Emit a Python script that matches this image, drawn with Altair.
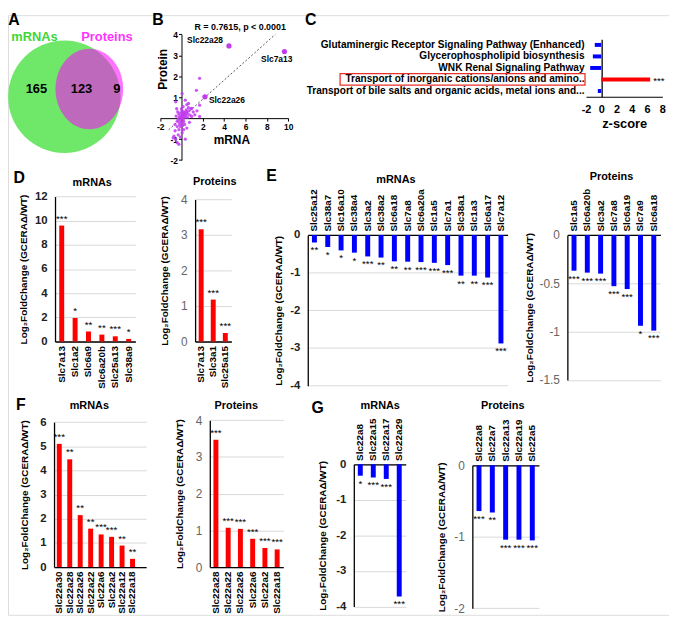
import altair as alt
import pandas as pd

# ---------------- data ----------------
venn_sets = ["mRNAs", "Proteins"]
venn_counts = ["165", "123", "9"]  # mRNA only, both, protein only

scatter_mrna = [0.0, 0.1, 0.2, 0.15, -0.1, -0.05, 0.3, 0.25, 0.1, -0.2, -0.3, 0.05, 0.4, 0.35, 0.2,
                -0.15, -0.25, 0.0, 0.5, 0.45, 0.6, 0.15, -0.35, -0.4, -0.5, 0.3, 0.1, -0.1, 0.55, 0.7,
                0.8, 0.05, 0.22, -0.05, 0.12, 0.38, -0.18, 0.65, -0.6, 0.9,
                1.7, 1.4, 0.06, 0.36, 1.7, 0.66, 0.95, -0.54, 1.25, 1.7, 0.95, 1.1, 0.5, -0.7, -0.54,
                -0.4, -0.24, 0.36, 0.06, 0.5, -0.24, -0.4, -0.6, -0.78, -0.3, 0.2, -0.1, 0.75, -0.45, 1.45]
scatter_protein = [0.0, 0.05, 0.1, -0.05, 0.1, -0.1, 0.2, 0.3, 0.25, 0.05, -0.05, 0.35, 0.15, 0.05, -0.15,
                   -0.2, 0.2, 0.45, 0.3, 0.4, 0.2, 0.55, 0.3, -0.15, 0.1, -0.3, -0.35, -0.4, 0.05, 0.35,
                   0.15, 0.15, 0.18, 0.25, -0.2, 0.28, -0.3, 0.5, -0.3, 0.45,
                   1.9, 1.33, 1.17, 0.86, 0.62, 0.7, 0.47, 0.78, 0.16, 0.08, 0.08, 0.3, 0.65, -0.86, -1.0,
                   -1.17, -1.25, -1.0, -0.7, -0.47, -0.55, -0.4, -0.6, -0.94, -0.8, -0.55, -0.9, -0.2, 0.45, 0.35]
named_genes = ["Slc22a28", "Slc7a13", "Slc22a26"]
named_mrna = [4.45, 9.65, 2.2]
named_protein = [3.45, 3.18, 1.02]
fit_mrna = [-1.2, 8.8]
fit_protein = [-0.55, 4.0]
stat_text = "R = 0.7615, p < 0.0001"

c_pathways = ["Glutaminergic Receptor Signaling Pathway (Enhanced)",
              "Glycerophospholipid biosynthesis",
              "WNK Renal Signaling Pathway",
              "Transport of inorganic cations/anions and amino..",
              "Transport of bile salts and organic acids, metal ions and..."]
c_zscore = [-0.85, -1.1, -1.45, 6.4, -0.45]
c_sig = ["", "", "", "***", ""]

d_mrna_genes = ["Slc7a13", "Slc1a2", "Slc6a9", "Slc6a20b", "Slc25a13", "Slc38a9"]
d_mrna_lfc = [9.6, 1.95, 0.83, 0.57, 0.43, 0.21]
d_mrna_sig = ["***", "*", "**", "**", "***", "*"]
d_prot_genes = ["Slc7a13", "Slc3a1", "Slc25a15"]
d_prot_lfc = [3.16, 1.18, 0.24]
d_prot_sig = ["***", "***", "***"]

e_mrna_genes = ["Slc25a12", "Slc38a7", "Slc16a10", "Slc38a4", "Slc3a2", "Slc38a2", "Slc6a18", "Slc7a8",
                "Slc6a20a", "Slc1a5", "Slc7a1", "Slc38a1", "Slc1a3", "Slc6a17", "Slc7a12"]
e_mrna_lfc = [-0.2, -0.32, -0.41, -0.47, -0.57, -0.6, -0.7, -0.71, -0.72, -0.74, -0.8, -1.08, -1.08, -1.13, -2.88]
e_mrna_sig = ["**", "*", "*", "*", "***", "**", "**", "**", "***", "***", "***", "**", "**", "***", "***"]
e_prot_genes = ["Slc1a5", "Slc6a20b", "Slc3a2", "Slc7a8", "Slc6a19", "Slc7a9", "Slc6a18"]
e_prot_lfc = [-0.37, -0.39, -0.4, -0.53, -0.56, -0.94, -0.99]
e_prot_sig = ["***", "***", "***", "***", "***", "*", "***"]

f_mrna_genes = ["Slc22a30", "Slc22a28", "Slc22a26", "Slc22a22", "Slc22a6", "Slc22a2", "Slc22a12", "Slc22a18"]
f_mrna_lfc = [5.1, 4.46, 2.15, 1.59, 1.35, 1.25, 0.89, 0.34]
f_mrna_sig = ["***", "**", "**", "**", "***", "***", "**", "**"]
f_prot_genes = ["Slc22a28", "Slc22a22", "Slc22a26", "Slc22a6", "Slc22a2", "Slc22a18"]
f_prot_lfc = [3.47, 1.07, 1.04, 0.77, 0.52, 0.48]
f_prot_sig = ["***", "***", "***", "***", "***", "***"]

g_mrna_genes = ["Slc22a8", "Slc22a15", "Slc22a17", "Slc22a29"]
g_mrna_lfc = [-0.32, -0.37, -0.41, -3.72]
g_mrna_sig = ["*", "***", "***", "***"]
g_prot_genes = ["Slc22a8", "Slc22a7", "Slc22a13", "Slc22a19", "Slc22a5"]
g_prot_lfc = [-0.64, -0.66, -1.04, -1.04, -1.05]
g_prot_sig = ["***", "**", "***", "***", "***"]

# ---------------- layout helpers ----------------
FONT = "Liberation Sans"
W, H = 668, 606
YTITLE = "Log₂FoldChange (GCERAΔ/WT)"


def px(x):
    return round((x - 2) * 0.99, 2)


def py(y):
    return round((y - 3) * 0.97, 2)


def vtext(txt, x, y, size, color="black", weight="bold", align="center"):
    return alt.Chart(pd.DataFrame({"t": [txt]})).mark_text(
        font=FONT, fontSize=size, fontWeight=weight, color=color, align=align, baseline="middle"
    ).encode(x=alt.value(px(x)), y=alt.value(py(y)), text="t:N")


layers = []

# ---------------- A: Venn ----------------
vx = alt.X("cx:Q", scale=alt.Scale(domain=[0, 120], range=[px(0), px(120)], nice=False, zero=False), axis=None)
vy = alt.Y("cy:Q", scale=alt.Scale(domain=[0, 150], range=[py(0), py(150)], nice=False, zero=False), axis=None)
green = alt.Chart(pd.DataFrame({"set": [venn_sets[0]], "cx": [59.5], "cy": [88]})).mark_point(
    shape="circle", filled=True, size=12900, color="#6fe86a", opacity=1, strokeWidth=0
).encode(x=vx, y=vy)
ellipse = "M 0.84 0 A 0.84 1 0 1 1 -0.84 0 A 0.84 1 0 1 1 0.84 0 Z"
magenta = alt.Chart(pd.DataFrame({"set": [venn_sets[1]], "cx": [85], "cy": [80]})).mark_point(
    shape=ellipse, filled=True, size=6626, color="#ff00ff", opacity=0.55, strokeWidth=0
).encode(x=vx, y=vy)
counts = alt.Chart(pd.DataFrame({"n": venn_counts, "cx": [31, 77, 113], "cy": [80, 80, 80]})).mark_text(
    font=FONT, fontSize=13, fontWeight="bold", color="black"
).encode(x=vx, y=vy, text="n:N")
set_lab1 = alt.Chart(pd.DataFrame({"s": [venn_sets[0]], "cx": [29], "cy": [26]})).mark_text(
    font=FONT, fontSize=13, fontWeight="bold", color="#3fd63a").encode(x=vx, y=vy, text="s:N")
set_lab2 = alt.Chart(pd.DataFrame({"s": [venn_sets[1]], "cx": [103], "cy": [26]})).mark_text(
    font=FONT, fontSize=13, fontWeight="bold", color="#ff33ff").encode(x=vx, y=vy, text="s:N")
layers.append(alt.layer(green, magenta, counts, set_lab1, set_lab2))

# ---------------- B: scatter ----------------
BX0, BY0 = px(179.1), py(110.3)
bx = alt.X("m:Q", title="mRNA",
           scale=alt.Scale(domain=[-2, 10], range=[px(157.3), px(288)], nice=False, zero=False),
           axis=alt.Axis(orient="bottom", offset=BY0 - H, values=[-2, 0, 2, 4, 6, 8, 10],
                         labelExpr="datum.value == 0 ? '' : '' + datum.value",
                         tickSize=3, tickColor="black", domainColor="black", domainWidth=1,
                         labelFontSize=8.5, labelFontWeight="bold", labelColor="black", labelPadding=1,
                         labelFlush=False, labelOverlap=False, grid=False,
                         titleFontSize=12, titleFontWeight="bold", titleColor="black",
                         titleX=px(230), titleY=py(133) - BY0, titleBaseline="middle"))
by = alt.Y("p:Q", title="Protein",
           scale=alt.Scale(domain=[-2, 4], range=[py(154), py(23)], nice=False, zero=False),
           axis=alt.Axis(orient="left", offset=-BX0, values=[-2, -1, 0, 1, 2, 3, 4],
                         labelExpr="datum.value == 0 ? '' : '' + datum.value",
                         tickSize=3, tickColor="black", domainColor="black", domainWidth=1,
                         labelFontSize=8.5, labelFontWeight="bold", labelColor="black", labelPadding=1,
                         labelFlush=False, labelOverlap=False, grid=False,
                         titleFontSize=12, titleFontWeight="bold", titleColor="black",
                         titleX=px(160) - BX0, titleY=py(59), titleBaseline="middle", titleAngle=270))
pts = alt.Chart(pd.DataFrame({"m": scatter_mrna, "p": scatter_protein})).mark_circle(
    size=11, color="#c23bf0", opacity=0.85).encode(x=bx, y=by)
fit = alt.Chart(pd.DataFrame({"m": fit_mrna, "p": fit_protein})).mark_line(
    strokeDash=[2, 2], color="#555555", strokeWidth=1).encode(x=bx, y=by)
named_df = pd.DataFrame({"g": named_genes, "m": named_mrna, "p": named_protein})
named = alt.Chart(named_df).mark_circle(size=28, color="#c23bf0", opacity=1).encode(x=bx, y=by)
lab1 = alt.Chart(named_df.iloc[[0]]).mark_text(font=FONT, fontSize=8.5, fontWeight="bold", align="right",
                                              dx=-6, dy=-6).encode(x=bx, y=by, text="g:N")
lab2 = alt.Chart(named_df.iloc[[1]]).mark_text(font=FONT, fontSize=8.5, fontWeight="bold", align="right",
                                              dx=8, dy=8).encode(x=bx, y=by, text="g:N")
lab3 = alt.Chart(named_df.iloc[[2]]).mark_text(font=FONT, fontSize=8.5, fontWeight="bold", align="left",
                                              dx=4, dy=3).encode(x=bx, y=by, text="g:N")
layers.append(alt.layer(fit, pts, named, lab1, lab2, lab3))
layers.append(vtext(stat_text, 239, 15, 9))

# ---------------- C: pathways ----------------
cdf = pd.DataFrame({"path": c_pathways, "z": c_zscore, "sig": c_sig})
cx = alt.X("z:Q", title="z-score",
           scale=alt.Scale(domain=[-2, 8], range=[px(592), px(670)], nice=False, zero=False),
           axis=alt.Axis(orient="bottom", offset=py(88) - H, values=[-2, 0, 2, 4, 6, 8],
                         labelExpr="'' + datum.value", ticks=False, domainColor="black", domainWidth=1.2,
                         labelFontSize=11, labelFontWeight="bold", labelColor="black", labelPadding=7,
                         labelFlush=False, labelOverlap=False, grid=False,
                         titleFontSize=13, titleFontWeight="bold", titleColor="black", titlePadding=3))
cy = alt.Y("path:N", sort=c_pathways, title=None,
           scale=alt.Scale(range=[py(28), py(88)], paddingInner=0, paddingOuter=0),
           axis=alt.Axis(orient="left", offset=-px(608), ticks=False, domainColor="black", domainWidth=1.3,
                         labelPadding=px(608) - px(590), labelFontSize=10.2, labelFontWeight="bold",
                         labelColor="black", labelLimit=0, grid=False))
cbars = alt.Chart(cdf).mark_bar(size=4).encode(
    x=cx, y=cy, color=alt.condition("datum.z > 0", alt.value("#ff0000"), alt.value("#0000ff")))
cstars = alt.Chart(cdf).mark_text(font=FONT, fontSize=10, align="left", baseline="alphabetic", dx=3, dy=5).encode(
    x=cx, y=cy, text="sig:N")
cbox = alt.Chart(cdf).transform_filter("datum.z > 0").mark_rect(
    fillOpacity=0, stroke="#e8322c", strokeWidth=1.3).encode(x=alt.value(px(341)), x2=alt.value(px(591)), y=cy)
layers.append(alt.layer(cbars, cstars, cbox))


# ---------------- bar panels ----------------
def bar_panel(genes, lfc, sig, color, dom, ticks, box, up, mrna, title_dx, pad_outer=0.0, band_align=0.5):
    x0, x1, yt, yb = box
    X0, X1, YT, YB = px(x0), px(x1), py(yt), py(yb)
    df = pd.DataFrame({"gene": genes, "lfc": lfc, "sig": sig})
    xenc = alt.X("gene:N", sort=genes, title=None,
                 scale=alt.Scale(range=[X0, X1], paddingInner=0, paddingOuter=pad_outer, align=band_align),
                 axis=alt.Axis(orient="bottom" if up else "top", offset=(YB - H) if up else -YT,
                               labelAngle=270, labelAlign="right" if up else "left", labelBaseline="middle",
                               labelFontSize=10, labelFontWeight="bold", labelColor="black", labelPadding=4,
                               ticks=False, domainColor="black", domainWidth=1.3, grid=False, labelLimit=0))
    yenc = alt.Y("lfc:Q", title=YTITLE,
                 scale=alt.Scale(domain=dom, range=[YB, YT], nice=False, zero=True),
                 axis=alt.Axis(orient="left", offset=-X0, values=ticks, labelExpr="'' + datum.value",
                               labelFontSize=11.5 if mrna else 12, labelFontWeight="bold" if mrna else "normal",
                               labelColor="#222222" if mrna else "#666666", labelPadding=8, ticks=False,
                               domainColor="black", domainWidth=1.3, grid=True, gridColor="#d9d9d9",
                               gridWidth=1, labelFlush=False, labelOverlap=False,
                               titleFontSize=10, titleFontWeight="bold", titleColor="black",
                               titleX=title_dx, titleBaseline="middle", titleAngle=270))
    bars = alt.Chart(df).mark_bar(size=5, color=color).encode(x=xenc, y=yenc)
    stars = alt.Chart(df).mark_text(font=FONT, fontSize=10, baseline="alphabetic",
                                    dy=-4 if up else 11, color="black").encode(x=xenc, y=yenc, text="sig:N")
    return alt.layer(bars, stars)


RED, BLUE = "#ff0000", "#0000ff"
layers.append(bar_panel(d_mrna_genes, d_mrna_lfc, d_mrna_sig, RED, [0, 12], [0, 2, 4, 6, 8, 10, 12],
                        (50, 132, 192, 343), True, True, -32))
layers.append(bar_panel(d_prot_genes, d_prot_lfc, d_prot_sig, RED, [0, 4], [0, 1, 2, 3, 4],
                        (193, 230, 195, 343), True, False, -31))
layers.append(bar_panel(e_mrna_genes, e_mrna_lfc, e_mrna_sig, BLUE, [-4, 0], [-4, -3, -2, -1, 0],
                        (308, 512, 232, 389), False, True, -30))
layers.append(bar_panel(e_prot_genes, e_prot_lfc, e_prot_sig, BLUE, [-1.5, 0], [-1.5, -1, -0.5, 0],
                        (573, 668, 232, 383), False, False, -38))
layers.append(bar_panel(f_mrna_genes, f_mrna_lfc, f_mrna_sig, RED, [0, 6], [0, 1, 2, 3, 4, 5, 6],
                        (49, 143, 427, 578), True, True, -30, pad_outer=0.4, band_align=0.0))
layers.append(bar_panel(f_prot_genes, f_prot_lfc, f_prot_sig, RED, [0, 4], [0, 1, 2, 3, 4],
                        (208, 283, 425, 578), True, False, -31))
layers.append(bar_panel(g_mrna_genes, g_mrna_lfc, g_mrna_sig, BLUE, [-4, 0], [-4, -3, -2, -1, 0],
                        (355, 408, 471, 619), False, True, -32))
layers.append(bar_panel(g_prot_genes, g_prot_lfc, g_prot_sig, BLUE, [-2, 0], [-2, -1, 0],
                        (476, 544, 472, 621), False, False, -31))

# ---------------- titles and panel letters ----------------
for t, x, y in [("mRNAs", 88, 178), ("Proteins", 213, 177), ("mRNAs", 398, 175), ("Proteins", 618, 172),
                ("mRNAs", 85, 410), ("Proteins", 235, 410), ("mRNAs", 382, 410), ("Proteins", 507, 410)]:
    layers.append(vtext(t, x, y, 11))
for t, x, y in [("A", 8, 8), ("B", 155, 8), ("C", 311, 8), ("D", 13.5, 173), ("E", 271, 171),
                ("F", 15, 409), ("G", 318, 412)]:
    layers.append(vtext(t, x, y, 16))

chart = alt.layer(*layers).resolve_scale(x="independent", y="independent").resolve_axis(
    x="independent", y="independent"
).properties(width=W, height=H, padding=0).configure_view(stroke=None).configure(font=FONT)

chart.save("out.html", embed_options={"renderer": "svg", "actions": False})
